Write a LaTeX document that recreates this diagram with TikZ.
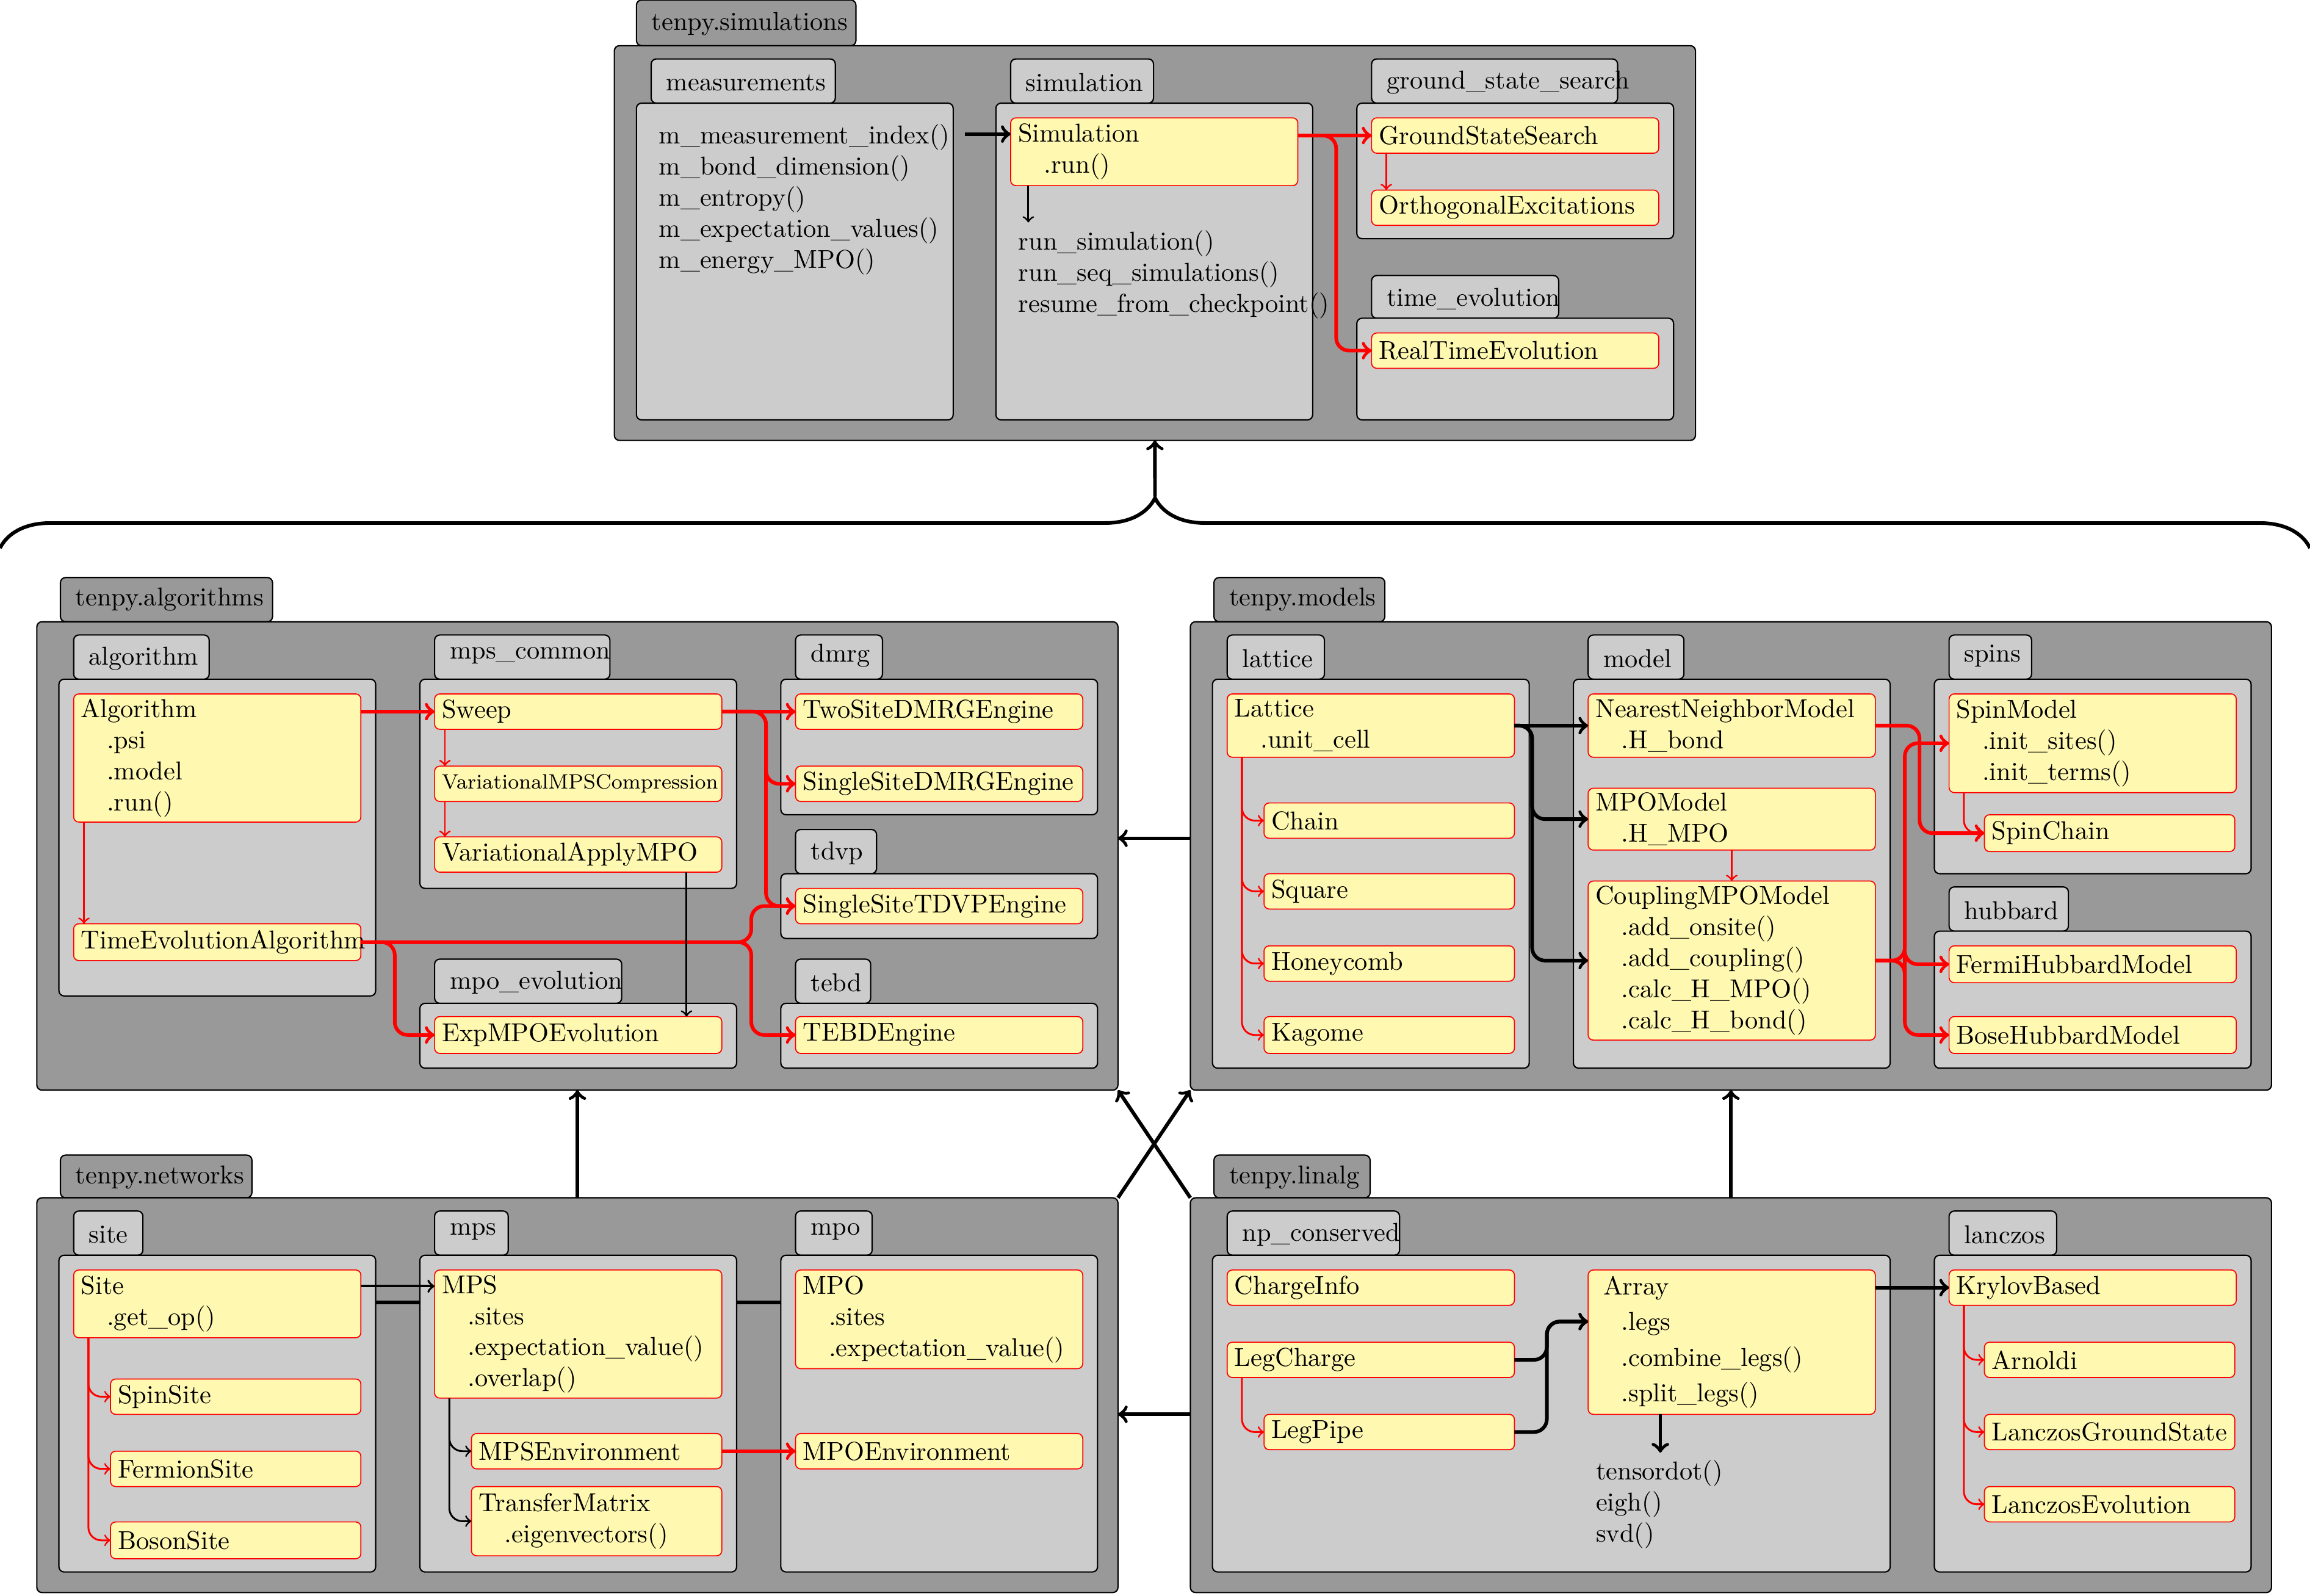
\documentclass[tikz,border=0pt]{standalone}
\usetikzlibrary{calc, decorations.pathreplacing}
\definecolor{pkggrey}{gray}{0.6}
\definecolor{modgrey}{gray}{0.8}
\definecolor{clsyellow}{RGB}{255,248,176}
\pgfdeclarelayer{back}
\pgfdeclarelayer{mid}
\pgfsetlayers{back,mid,main}
\tikzset{
  outer/.style={draw, fill=pkggrey, rounded corners=2pt, line width=0.5pt},
  inner/.style={draw, fill=modgrey, rounded corners=2pt, line width=0.5pt},
  pkgbox/.style={outer, anchor=north west, inner sep=0pt, outer sep=0pt},
  tablabel/.style={anchor=west, inner sep=0pt},
  cls/.style={draw=red, fill=clsyellow, rounded corners=2pt, anchor=north west, inner xsep=0.1cm, inner ysep=0pt, outer sep=0pt, text width=3.7cm, align=left, minimum height=0.48cm},
  clsn/.style={cls, text width=3.2cm},
  plain/.style={anchor=north west, inner sep=0pt, align=left},
  rt/.style={->, red, line width=1.4pt, rounded corners=5pt},
  rn/.style={->, red, line width=0.7pt, rounded corners=5pt},
  bt/.style={->, black, line width=1.4pt, rounded corners=5pt},
  bn/.style={->, black, line width=0.7pt, rounded corners=5pt}
}

\begin{document}
\begin{tikzpicture}[x=0.02cm, y=-0.02cm]
\useasboundingbox (0,0) rectangle (1568,1083);

% packages
\begin{pgfonlayer}{back}
\draw[outer] (432,0) rectangle (581,31);
\node[tablabel] at (442,16) {tenpy.simulations};
\node[pkgbox, minimum width=14.68cm, minimum height=5.36cm] (simpkg) at (417,31) {};
\draw[outer] (41,392) rectangle (185,422);
\node[tablabel] at (51,407) {tenpy.algorithms};
\node[pkgbox, minimum width=14.68cm, minimum height=6.36cm] (algpkg) at (25,422) {};
\draw[outer] (824,392) rectangle (940,422);
\node[tablabel] at (834,407) {tenpy.models};
\node[pkgbox, minimum width=14.68cm, minimum height=6.36cm] (modpkg) at (808,422) {};
\draw[outer] (41,784) rectangle (171,813);
\node[tablabel] at (51,799) {tenpy.networks};
\node[pkgbox, minimum width=14.68cm, minimum height=5.36cm] (netpkg) at (25,813) {};
\draw[outer] (824,784) rectangle (930,813);
\node[tablabel] at (834,799) {tenpy.linalg};
\node[pkgbox, minimum width=14.68cm, minimum height=5.36cm] (linpkg) at (808,813) {};
\end{pgfonlayer}

% modules
\draw[inner] (442,40) rectangle (567,70);  \node[tablabel] at (452,56) {measurements};
\draw[inner] (432,70) rectangle (647,285);
\draw[inner] (686,40) rectangle (783,70);  \node[tablabel] at (696,56) {simulation};
\draw[inner] (676,70) rectangle (891,285);
\draw[inner] (931,40) rectangle (1098,70); \node[tablabel] at (941,56) {ground\_state\_search};
\draw[inner] (921,70) rectangle (1136,162);
\draw[inner] (931,187) rectangle (1058,216); \node[tablabel] at (941,203) {time\_evolution};
\draw[inner] (921,216) rectangle (1136,285);

\draw[inner] (50,431) rectangle (142,461);  \node[tablabel] at (60,447) {algorithm};
\draw[inner] (40,461) rectangle (255,676);
\draw[inner] (295,431) rectangle (414,461); \node[tablabel] at (305,445) {mps\_common};
\draw[inner] (285,461) rectangle (500,603);
\draw[inner] (540,431) rectangle (599,461); \node[tablabel] at (550,445) {dmrg};
\draw[inner] (530,461) rectangle (745,553);
\draw[inner] (540,563) rectangle (595,593); \node[tablabel] at (550,579) {tdvp};
\draw[inner] (530,593) rectangle (745,637);
\draw[inner] (295,651) rectangle (422,681); \node[tablabel] at (305,667) {mpo\_evolution};
\draw[inner] (285,681) rectangle (500,725);
\draw[inner] (540,651) rectangle (591,681); \node[tablabel] at (550,667) {tebd};
\draw[inner] (530,681) rectangle (745,725);

\draw[inner] (833,431) rectangle (899,461);   \node[tablabel] at (843,447) {lattice};
\draw[inner] (823,461) rectangle (1038,725);
\draw[inner] (1078,431) rectangle (1143,461); \node[tablabel] at (1088,447) {model};
\draw[inner] (1068,461) rectangle (1283,725);
\draw[inner] (1323,431) rectangle (1379,461); \node[tablabel] at (1333,445) {spins};
\draw[inner] (1313,461) rectangle (1528,593);
\draw[inner] (1323,602) rectangle (1404,632); \node[tablabel] at (1333,618) {hubbard};
\draw[inner] (1313,632) rectangle (1528,725);

\draw[inner] (50,822) rectangle (97,852);   \node[tablabel] at (60,838) {site};
\draw[inner] (40,852) rectangle (255,1067);
\draw[inner] (295,822) rectangle (345,852); \node[tablabel] at (305,836) {mps};
\draw[inner] (285,852) rectangle (500,1067);
\draw[inner] (540,822) rectangle (592,852); \node[tablabel] at (550,836) {mpo};
\draw[inner] (530,852) rectangle (745,1067);

\draw[inner] (833,822) rectangle (950,852);   \node[tablabel] at (843,838) {np\_conserved};
\draw[inner] (823,852) rectangle (1283,1067);
\draw[inner] (1323,822) rectangle (1396,852); \node[tablabel] at (1333,838) {lanczos};
\draw[inner] (1313,852) rectangle (1528,1067);

% tenpy.simulations
\node[plain] (meas) at (447,84) {m\_measurement\_index()\\m\_bond\_dimension()\\m\_entropy()\\m\_expectation\_values()\\m\_energy\_MPO()};
\node[cls, minimum height=0.92cm] (sim) at (686,80) {Simulation\\\quad .run()};
\node[plain] (runs) at (691,156) {run\_simulation()\\run\_seq\_simulations()\\resume\_from\_checkpoint()};
\node[cls] (gss) at (931,80) {GroundStateSearch};
\node[cls] (ortho) at (931,129) {OrthogonalExcitations};
\node[cls] (rte) at (931,226) {RealTimeEvolution};

\draw[bt] ($(meas.north east)+(10,7)$) -- ($(sim.north west)+(0,11)$);
\draw[bn] ($(sim.south west)+(12,0)$) -- ++(0,25);
\draw[rt] (sim.east |- gss.west) -- (gss.west);
\draw[rt] (sim.east |- gss.west) -- ++(26,0) |- (rte.west);
\draw[rn] ($(gss.south west)+(10,0)$) -- ($(ortho.north west)+(10,0)$);

% tenpy.algorithms
\node[cls, minimum height=1.74cm] (algo) at (50,471) {Algorithm\\\quad .psi\\\quad .model\\\quad .run()};
\node[cls, minimum height=0.5cm] (tea) at (50,627) {TimeEvolutionAlgorithm};
\node[cls] (sweep) at (295,471) {Sweep};
\node[cls, font=\footnotesize] (vmps) at (295,520) {VariationalMPSCompression};
\node[cls] (vamp) at (295,568) {VariationalApplyMPO};
\node[cls] (tsd) at (540,471) {TwoSiteDMRGEngine};
\node[cls] (ssd) at (540,520) {SingleSiteDMRGEngine};
\node[cls] (sst) at (540,603) {SingleSiteTDVPEngine};
\node[cls, minimum height=0.5cm] (expmpo) at (295,690) {ExpMPOEvolution};
\node[cls, minimum height=0.5cm] (tebd) at (540,690) {TEBDEngine};

\draw[rt] (algo.east |- sweep.west) -- (sweep.west);
\draw[rn] ($(algo.south west)+(7,0)$) -- ($(tea.north west)+(7,0)$);
\draw[rn] ($(sweep.south west)+(7,0)$) -- ($(vmps.north west)+(7,0)$);
\draw[rn] ($(vmps.south west)+(7,0)$) -- ($(vamp.north west)+(7,0)$);
\draw[rt] (sweep.east) -- (tsd.west);
\draw[rt] (sweep.east) -- ++(30,0) |- (ssd.west);
\draw[rt] (sweep.east) -- ++(30,0) |- (sst.west);
\draw[rt] (tea.east) -- ++(23,0) |- (expmpo.west);
\draw[rt] (tea.east) -- ++(265,0) |- (sst.west);
\draw[rt] (tea.east) -- ++(265,0) |- (tebd.west);
\draw[bn] ($(vamp.south west)+(171,0)$) -- ($(expmpo.north west)+(171,0)$);

% tenpy.models
\node[cls, minimum height=0.86cm] (lat) at (833,471) {Lattice\\\quad .unit\_cell};
\node[clsn] (chain) at (858,545) {Chain};
\node[clsn] (square) at (858,593) {Square};
\node[clsn] (honey) at (858,642) {Honeycomb};
\node[clsn, minimum height=0.5cm] (kagome) at (858,690) {Kagome};
\node[cls, minimum height=0.86cm] (nnm) at (1078,471) {NearestNeighborModel\\\quad .H\_bond};
\node[cls, minimum height=0.84cm] (mpom) at (1078,535) {MPOModel\\\quad .H\_MPO};
\node[cls, minimum height=2.16cm] (cmpo) at (1078,598) {CouplingMPOModel\\\quad .add\_onsite()\\\quad .add\_coupling()\\\quad .calc\_H\_MPO()\\\quad .calc\_H\_bond()};
\node[cls, minimum height=1.34cm] (spinm) at (1323,471) {SpinModel\\\quad .init\_sites()\\\quad .init\_terms()};
\node[clsn, minimum height=0.5cm] (spinc) at (1347,553) {SpinChain};
\node[cls, minimum height=0.5cm] (fhm) at (1323,642) {FermiHubbardModel};
\node[cls, minimum height=0.5cm] (bhm) at (1323,690) {BoseHubbardModel};

\draw[bt] (lat.east) -- (nnm.west);
\draw[bt] (lat.east) -- ++(12,0) |- (mpom.west);
\draw[bt] (lat.east) -- ++(12,0) |- (cmpo.west);
\foreach \sub in {chain, square, honey, kagome}
  \draw[rn] ($(lat.south west)+(10,0)$) |- (\sub.west);
\draw[rn] (mpom.south) -- (cmpo.north);
\draw[rt] (nnm.east) -- ++(30,0) |- (spinc.west);
\draw[rt] (cmpo.east) -- ++(20,0) |- (spinm.west);
\draw[rt] (cmpo.east) -- ++(20,0) |- (fhm.west);
\draw[rt] (cmpo.east) -- ++(20,0) |- (bhm.west);
\draw[rn] ($(spinm.south west)+(10,0)$) |- (spinc.west);

% tenpy.networks
\node[cls, minimum height=0.92cm] (site) at (50,862) {Site\\\quad .get\_op()};
\node[clsn] (spinsite) at (75,936) {SpinSite};
\node[clsn] (fermsite) at (75,985) {FermionSite};
\node[clsn, minimum height=0.5cm] (bossite) at (75,1033) {BosonSite};
\node[cls, minimum height=1.74cm] (mps) at (295,862) {MPS\\\quad .sites\\\quad .expectation\_value()\\\quad .overlap()};
\node[clsn] (mpsenv) at (320,973) {MPSEnvironment};
\node[clsn, minimum height=0.94cm] (tm) at (320,1009) {TransferMatrix\\\quad .eigenvectors()};
\node[cls, minimum height=1.34cm] (mpo) at (540,862) {MPO\\\quad .sites\\\quad .expectation\_value()};
\node[cls] (mpoenv) at (540,973) {MPOEnvironment};

\begin{pgfonlayer}{mid}
\draw[bt] ($(site.north east)+(0,22)$) -- ($(mpo.north west)+(0,22)$);
\end{pgfonlayer}
\draw[->, line width=0.9pt] ($(site.north east)+(0,11)$) -- ($(mps.north west)+(0,11)$);
\foreach \sub in {spinsite, fermsite, bossite}
  \draw[rn] ($(site.south west)+(10,0)$) |- (\sub.west);
\draw[bn] ($(mps.south west)+(10,0)$) |- (mpsenv.west);
\draw[bn] ($(mps.south west)+(10,0)$) |- (tm.west);
\draw[rt] (mpsenv.east) -- (mpoenv.west);

% tenpy.linalg
\node[cls] (ci) at (833,862) {ChargeInfo};
\node[cls] (lc) at (833,911) {LegCharge};
\node[clsn] (lp) at (858,960) {LegPipe};
\node[cls, minimum height=1.96cm] (arr) at (1078,862) {\hspace*{3pt}Array\\[1.7pt]\quad .legs\\[1.7pt]\quad .combine\_legs()\\[1.7pt]\quad .split\_legs()};
\node[plain] (fns) at (1083,991) {tensordot()\\eigh()\\svd()};
\node[cls] (kb) at (1323,862) {KrylovBased};
\node[clsn] (arn) at (1347,911) {Arnoldi};
\node[clsn] (lgs) at (1347,960) {LanczosGroundState};
\node[clsn] (lev) at (1347,1009) {LanczosEvolution};

\draw[bt] (lc.east) -- ++(22,0) |- ($(arr.north west)+(0,35)$);
\draw[bt] (lp.east) -- ++(22,0) |- ($(arr.north west)+(0,35)$);
\draw[rn] ($(lc.south west)+(10,0)$) |- (lp.west);
\draw[bt] (arr.east |- kb.west) -- (kb.west);
\draw[bt] ($(arr.south west)+(49,0)$) -- ++(0,26);
\foreach \sub in {arn, lgs, lev}
  \draw[rn] ($(kb.south west)+(10,0)$) |- (\sub.west);

% dependencies between packages
\draw[line width=1.4pt, decorate, decoration={brace, amplitude=0.68cm}] (0,372) -- (1568,372);
\coordinate (bracetip) at (784,337);
\draw[bt] (bracetip) -- (simpkg.south);
\draw[bt] (netpkg.north) -- (algpkg.south);
\draw[bt] (linpkg.north) -- (modpkg.south);
\draw[bt] ([yshift=0.24cm]modpkg.west) -- ([yshift=0.24cm]algpkg.east);
\draw[bt] ([yshift=-0.26cm]linpkg.west) -- ([yshift=-0.26cm]netpkg.east);
\draw[bt] (netpkg.north east) -- (modpkg.south west);
\draw[bt] (linpkg.north west) -- (algpkg.south east);
\end{tikzpicture}
\end{document}
